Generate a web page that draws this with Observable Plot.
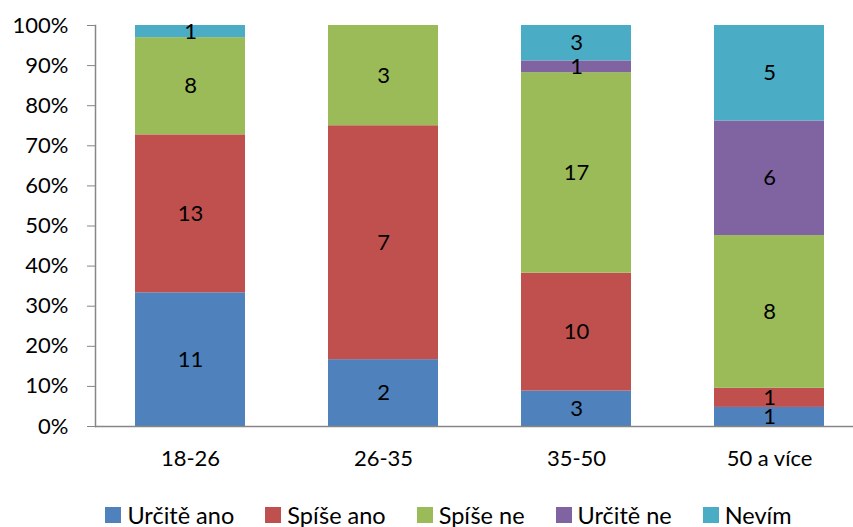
<!DOCTYPE html>
<html>
<head>
<meta charset="utf-8">
<script src="https://cdn.jsdelivr.net/npm/d3@7"></script>
<script src="https://cdn.jsdelivr.net/npm/@observablehq/plot@0.6"></script>
<style>
  html, body { margin: 0; padding: 0; background: #fff; }
  #chart { width: 853px; }
  .legend { display: flex; justify-content: center; align-items: center; gap: 31px;
            font-family: Lato, sans-serif; font-size: 23.5px; color: #000; height: 37px;
            padding-top: 12px; padding-left: 44px; box-sizing: border-box; width: 853px; }
  .item { display: flex; align-items: center; }
  .sw { width: 16px; height: 16px; margin-right: 6px; display: inline-block; }
</style>
</head>
<body>
<div id="chart"></div>
<script>
const categories = ["18-26", "26-35", "35-50", "50 a více"];
const seriesNames = ["Určitě ano", "Spíše ano", "Spíše ne", "Určitě ne", "Nevím"];
const seriesColors = ["#4F81BD", "#C0504D", "#9BBB59", "#8064A2", "#4BACC6"];
const urciteAno = [11, 2, 3, 1];
const spiseAno  = [13, 7, 10, 1];
const spiseNe   = [8, 3, 17, 8];
const urciteNe  = [0, 0, 1, 6];
const nevim     = [1, 0, 3, 5];
const yTicks = [0, 0.1, 0.2, 0.3, 0.4, 0.5, 0.6, 0.7, 0.8, 0.9, 1];

const seriesValues = [urciteAno, spiseAno, spiseNe, urciteNe, nevim];
const data = [];
seriesNames.forEach((s, i) => {
  categories.forEach((c, j) => {
    data.push({category: c, series: s, value: seriesValues[i][j]});
  });
});

const chart = Plot.plot({
  width: 853,
  height: 490,
  marginTop: 25,
  marginBottom: 64,
  marginLeft: 95,
  marginRight: 0,
  style: {fontFamily: "Lato, sans-serif", fontSize: "22px", color: "#000", background: "#fff"},
  x: {domain: categories, range: [94, 866], paddingInner: 0.43, paddingOuter: 0.215, label: null},
  y: {domain: [0, 1], label: null},
  color: {domain: seriesNames, range: seriesColors},
  marks: [
    Plot.barY(data, Plot.stackY({x: "category", y: "value", fill: "series", offset: "normalize", order: null})),
    Plot.text(data.filter(d => d.value > 0), Plot.stackY({x: "category", y: "value", z: "series", text: "value", offset: "normalize", order: null, fill: "#000", fontSize: 22, lineAnchor: "middle"})),
    Plot.axisY({ticks: yTicks, tickFormat: d3.format(".0%"), tickSize: 8, tickPadding: 19, stroke: "#868686", fill: "#000", label: null}),
    Plot.axisX({tickSize: 0, tickPadding: 24, fill: "#000", label: null}),
    Plot.frame({anchor: "left", stroke: "#868686", strokeWidth: 1.5}),
    Plot.ruleY([0], {stroke: "#868686", strokeWidth: 1.5})
  ]
});
document.getElementById("chart").appendChild(chart);

const legend = document.createElement("div");
legend.className = "legend";
seriesNames.forEach((s, i) => {
  const item = document.createElement("span");
  item.className = "item";
  const sw = document.createElement("span");
  sw.className = "sw";
  sw.style.background = seriesColors[i];
  item.appendChild(sw);
  item.appendChild(document.createTextNode(s));
  legend.appendChild(item);
});
document.getElementById("chart").appendChild(legend);
</script>
</body>
</html>
